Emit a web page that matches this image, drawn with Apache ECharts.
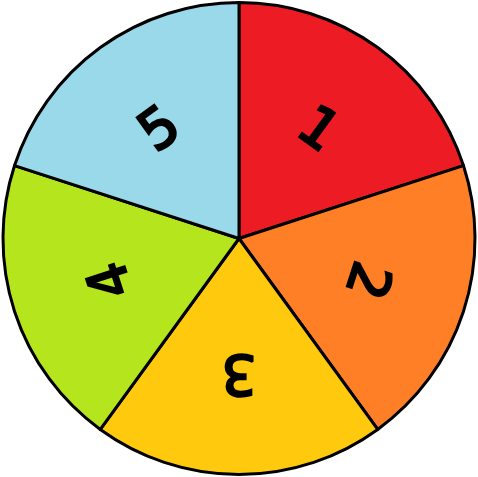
<!DOCTYPE html>
<html>
<head>
<meta charset="utf-8">
<script src="https://cdn.jsdelivr.net/npm/echarts@6/dist/echarts.min.js"></script>
<style>html,body{margin:0;padding:0;background:#fff}#c{width:478px;height:477px}</style>
</head>
<body>
<div id="c"></div>
<script>
var categories = ['1', '2', '3', '4', '5'];
var values = [1, 1, 1, 1, 1];
var colors = ['#ED1C24', '#FF7F27', '#FFC90E', '#B5E61D', '#99D9EA'];

var total = values.reduce(function (a, b) { return a + b; }, 0);
var startAngle = 90;
var acc = 0;
var labelData = categories.map(function (name, i) {
  var mid = startAngle - (acc + values[i] / 2) / total * 360;
  acc += values[i];
  return { name: name, value: values[i], label: { rotate: mid - 90 } };
});

var chart = echarts.init(document.getElementById('c'), null, { renderer: 'canvas' });
chart.setOption({
  animation: false,
  series: [
    {
      type: 'pie',
      center: [239, 238.5],
      radius: [0, 236],
      startAngle: startAngle,
      clockwise: true,
      silent: true,
      label: { show: false },
      labelLine: { show: false },
      itemStyle: { borderColor: '#000', borderWidth: 3 },
      data: categories.map(function (n, i) {
        return { name: n, value: values[i], itemStyle: { color: colors[i] } };
      })
    },
    {
      type: 'pie',
      center: [239, 238.5],
      radius: [104, 154],
      startAngle: startAngle,
      clockwise: true,
      silent: true,
      itemStyle: { color: 'rgba(0,0,0,0)', borderWidth: 0 },
      labelLine: { show: false },
      label: {
        show: true,
        position: 'inside',
        formatter: '{b}',
        color: '#000',
        fontFamily: 'DejaVu Sans',
        fontSize: 55,
        textBorderColor: '#000',
        textBorderWidth: 2.5
      },
      data: labelData
    }
  ]
});
</script>
</body>
</html>
